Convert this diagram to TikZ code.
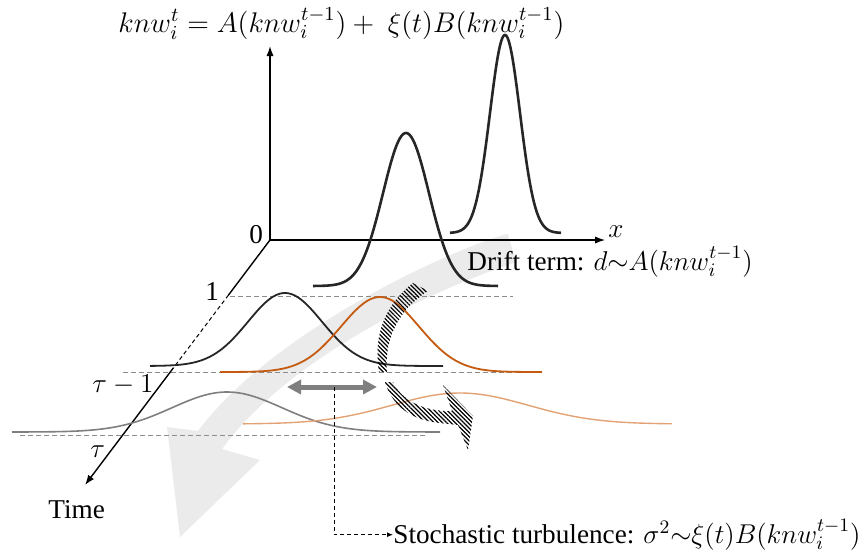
\RequirePackage{fix-cm}
\documentclass[tikz,border=0pt]{standalone}
\usepackage{fontspec}
\setmainfont{Liberation Serif}
\usetikzlibrary{arrows.meta,patterns.meta}
\definecolor{org}{HTML}{C55A11}
\definecolor{orgl}{HTML}{E3A274}
\definecolor{dgray}{HTML}{7F7F7F}
\definecolor{lgray}{HTML}{8C8C8C}
\definecolor{bandgray}{HTML}{EBEBEB}
\definecolor{curveblk}{HTML}{262626}
\begin{document}
\begin{tikzpicture}[x=0.5pt,y=-0.5pt,
  declare function={g(\x,\c,\s)=exp(-0.5*((\x-\c)/\s)*((\x-\c)/\s));},
  lbl/.style={inner sep=0pt, anchor=base west, font=\fontsize{13.6}{16}\selectfont},
  eqlbl/.style={inner sep=0pt, anchor=base west, font=\fontsize{14.2}{17}\selectfont},
  lvl/.style={draw=lgray, dash pattern=on 2.5pt off 1.5pt, line width=0.5pt},
  axis/.style={draw=black, line width=0.7pt},
  axarrow/.style={-{Latex[length=5pt,width=3.6pt]}},
  topcurve/.style={draw=curveblk, line width=1.3pt},
  midblack/.style={draw=curveblk, line width=0.9pt},
  midorange/.style={draw=org, line width=0.9pt},
  lowgray/.style={draw=dgray, line width=0.8pt},
  loworange/.style={draw=orgl, line width=0.7pt},
  hatch/.style={pattern={Lines[angle=-45,distance=1.5pt,line width=0.6pt]}, pattern color=black},
  dblarrow/.style={draw=dgray, line width=2.5pt, {Triangle[length=7pt,width=7pt]}-{Triangle[length=7pt,width=7pt]}},
  conn/.style={draw=black, line width=0.5pt, dash pattern=on 2pt off 1.5pt, -{Latex[length=3pt,width=2.5pt]}}
]
\useasboundingbox (0,0) rectangle (868,553);

% big light gray curved arrow (time drift)
\fill[bandgray] (507.6,233.7) .. controls (435,255) and (268,337) .. (198,431)
  -- (167,427) -- (180,537) -- (260,460) -- (222,449)
  .. controls (292,353) and (445,285) .. (516.4,262.3) -- cycle;

% coordinates of axes
\coordinate (O) at (270,240);
\coordinate (Ytop) at (270,46);
\coordinate (Xend) at (605,240);
\coordinate (T1) at (228.5,295);
\coordinate (T2) at (173.3,368);
\coordinate (Tend) at (85,485);

% level dashed lines
\coordinate (L1a) at (230,296);
\coordinate (L1b) at (513,296);
\coordinate (L2a) at (123,372);
\coordinate (L2b) at (540,372);
\coordinate (L3a) at (20,435);
\coordinate (L3b) at (427,435);
\draw[lvl] (L1a) -- (L1b);
\draw[lvl] (L2a) -- (L2b);
\draw[lvl] (L3a) -- (L3b);

% axes
\draw[axis, axarrow] (O) -- (Ytop);
\draw[axis, line width=0.6pt, axarrow] (O) -- (Xend);
\draw[axis] (O) -- (T1);
\draw[axis, line width=0.5pt, dash pattern=on 2pt off 1.5pt] (T1) -- (T2);
\draw[axis, axarrow] (T2) -- (Tend);

% top plane curves
\draw[topcurve] plot[domain=313:498,samples=120] (\x,{286-153*g(\x,406,23)});
\draw[topcurve] plot[domain=450:561,samples=120] (\x,{233-198*g(\x,505,15)});

% level 1 curves
\draw[midblack] plot[domain=150:443,samples=120] (\x,{366-73*g(\x,285,37)});
\draw[midorange] plot[domain=220:542,samples=120] (\x,{372-75*g(\x,380,39)});

% level tau-1 curves
\draw[lowgray] plot[domain=12:440,samples=120] (\x,{432-40*g(\x,227,55)});
\draw[loworange] plot[domain=243:672,samples=120] (\x,{424-31*g(\x,460,68)});

% hatched curved arrow (stochastic turn)
\filldraw[hatch, draw=none] (413,283) .. controls (385,305) and (373,335) .. (379,372)
  -- (387,372) .. controls (384,340) and (398,310) .. (428,291) -- cycle;
\filldraw[hatch, draw=none] (385,382) .. controls (392,405) and (410,420) .. (440,423)
  -- (458,425) -- (468,450) -- (473,416) -- (443,385) -- (452,411) -- (445,411)
  .. controls (420,410) and (400,398) .. (393,382) -- cycle;

% gray double arrow
\coordinate (DA) at (287,387);
\coordinate (DB) at (377,387);
\coordinate (mid) at (334,387);
\draw[dblarrow] (DA) -- (DB);

% labels
\node[eqlbl] (eq) at (118,32) {$knw_i^t = A\big(knw_i^{t-1}\big) +\ \xi(t)B(knw_i^{t-1})$};
\node[lbl] (zero) at (249,243) {0};
\node[lbl] (xlab) at (608,237) {$x$};
\node[lbl] (one) at (205,300) {1};
\node[lbl] (taum) at (92,392) {$\tau - 1$};
\node[lbl] (tau) at (90,457) {$\tau$};
\node[lbl] (time) at (48,518) {Time};
\node[lbl] (drift) at (467,270) {Drift term: $d{\sim}A\big(knw_i^{t-1}\big)$};
\node[lbl] (stoch) at (393,543) {Stochastic turbulence: $\sigma^2{\sim}\xi(t)B(knw_i^{t-1})$};

% connector
\draw[conn] (mid) |- (stoch.west);
\end{tikzpicture}
\end{document}
